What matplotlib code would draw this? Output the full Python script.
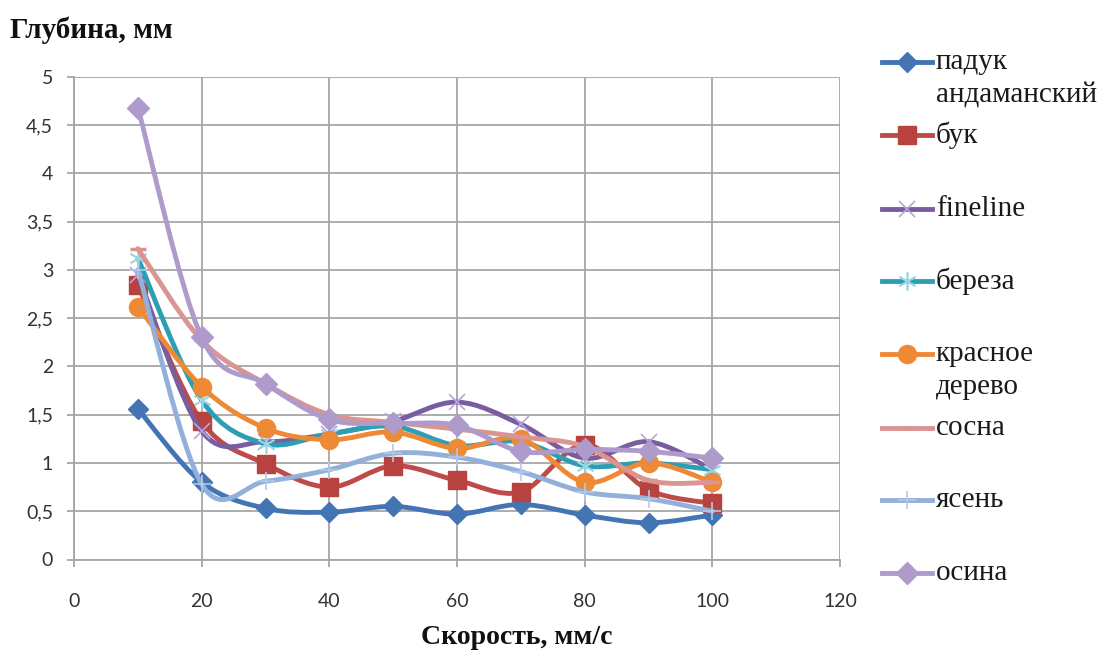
import numpy as np
import matplotlib
matplotlib.use("Agg")
import matplotlib.pyplot as plt
from matplotlib.path import Path
from matplotlib.patches import PathPatch
from matplotlib.lines import Line2D
from matplotlib.ticker import FuncFormatter

# ---------------- data ----------------
speed = [10, 20, 30, 40, 50, 60, 70, 80, 90, 100]

series_names = ["падук\nандаманский", "бук", "fineline", "береза",
                "красное\nдерево", "сосна", "ясень", "осина"]

paduk    = [1.56, 0.80, 0.53, 0.49, 0.55, 0.47, 0.57, 0.46, 0.38, 0.46]
buk      = [2.84, 1.43, 0.99, 0.75, 0.97, 0.82, 0.70, 1.19, 0.72, 0.58]
fineline = [2.95, 1.33, 1.22, 1.30, 1.43, 1.63, 1.40, 1.05, 1.22, 0.93]
bereza   = [3.12, 1.65, 1.20, 1.30, 1.38, 1.18, 1.22, 0.97, 1.00, 0.93]
krasnoe  = [2.62, 1.79, 1.36, 1.24, 1.32, 1.15, 1.25, 0.80, 1.00, 0.80]
sosna    = [3.22, 2.27, 1.82, 1.50, 1.42, 1.35, 1.27, 1.17, 0.82, 0.80]
yasen    = [3.00, 0.78, 0.81, 0.93, 1.10, 1.06, 0.91, 0.70, 0.63, 0.50]
osina    = [4.68, 2.30, 1.82, 1.45, 1.41, 1.39, 1.12, 1.14, 1.12, 1.05]

values = [paduk, buk, fineline, bereza, krasnoe, sosna, yasen, osina]

x_ticks = [0, 20, 40, 60, 80, 100, 120]
y_ticks = [0, 0.5, 1, 1.5, 2, 2.5, 3, 3.5, 4, 4.5, 5]

# ---------------- styles ----------------
line_colors = ["#4374B4", "#BE4B48", "#7A5CA0", "#2E9FB3",
               "#EE8A36", "#DA9491", "#92B0D9", "#AE9BCB"]
markers = ["D", "s", "x", (6, 2, 0), "o", "_", "+", "D"]
marker_colors = ["#4374B4", "#B8423F", "#B7A4DA", "#9AD6E4",
                 "#EE8A36", "#DA9491", "#B3C9E8", "#AE9BCB"]
marker_sizes = [10, 13, 12, 13, 13, 11, 13, 11]
marker_ew = [1, 1, 1.2, 1.2, 1, 2.5, 1.2, 1]

W, H = 1099, 655
fig = plt.figure(figsize=(W / 100, H / 100), dpi=100)
fig.patch.set_facecolor("white")

left_px, right_px, top_px, bottom_px = 74, 840, 76.7, 559.5
ax = fig.add_axes([left_px / W, 1 - bottom_px / H,
                   (right_px - left_px) / W, (bottom_px - top_px) / H])

ax.set_xlim(0, 120)
ax.set_ylim(0, 5)
ax.set_xticks(x_ticks)
ax.set_yticks(y_ticks)
ax.yaxis.set_major_formatter(FuncFormatter(
    lambda v, p: ("%g" % v).replace(".", ",")))

grid_c = "#A6A6A6"
ax.grid(True, color=grid_c, linewidth=1.3)
ax.set_axisbelow(True)
for s in ["top", "right"]:
    ax.spines[s].set_visible(False)
for s in ["left", "bottom"]:
    ax.spines[s].set_color(grid_c)
    ax.spines[s].set_linewidth(1.3)
ax.tick_params(axis="both", direction="out", length=5, width=1.3,
               color=grid_c, labelsize=14, labelcolor="#333333")
ax.tick_params(axis="x", pad=19)
ax.tick_params(axis="y", pad=10)
for lab in ax.get_xticklabels() + ax.get_yticklabels():
    lab.set_family("Lato")


def bezier_path(xs, ys):
    pts = np.column_stack([xs, ys]).astype(float)
    n = len(pts)
    verts = [pts[0]]
    codes = [Path.MOVETO]
    for i in range(n - 1):
        p0 = pts[i - 1] if i > 0 else pts[i]
        p1 = pts[i]
        p2 = pts[i + 1]
        p3 = pts[i + 2] if i + 2 < n else pts[i + 1]
        c1 = p1 + (p2 - p0) / 6.0
        c2 = p2 - (p3 - p1) / 6.0
        verts += [c1, c2, p2]
        codes += [Path.CURVE4] * 3
    return Path(verts, codes)


for i, ys in enumerate(values):
    patch = PathPatch(bezier_path(speed, ys), facecolor="none",
                      edgecolor=line_colors[i], linewidth=3.5,
                      capstyle="round", joinstyle="round", zorder=3 + i)
    ax.add_patch(patch)
    ax.plot(speed, ys, linestyle="none", marker=markers[i],
            markersize=marker_sizes[i], color=marker_colors[i],
            markeredgecolor=marker_colors[i], markeredgewidth=marker_ew[i],
            zorder=3.5 + i)

# axis titles
fig.text(10 / W, 1 - 30 / H, "Глубина, мм", fontsize=21, fontweight="bold",
         family="Liberation Serif", ha="left", va="center", color="#111111")
fig.text(517 / W, 1 - 638 / H, "Скорость, мм/с", fontsize=20,
         fontweight="bold", family="Liberation Serif", ha="center",
         va="center", color="#111111")

# legend (drawn manually, Excel style)
entry_y = [62, 135, 209, 281, 354, 428, 500, 573]
for i, name in enumerate(series_names):
    yc = 1 - entry_y[i] / H
    fig.add_artist(Line2D([882 / W, 932 / W], [yc, yc],
                          transform=fig.transFigure,
                          color=line_colors[i], linewidth=3.5))
    fig.add_artist(Line2D([907 / W], [yc], transform=fig.transFigure,
                          linestyle="none", marker=markers[i],
                          markersize=marker_sizes[i], color=marker_colors[i],
                          markeredgecolor=marker_colors[i],
                          markeredgewidth=marker_ew[i]))
    for k, part in enumerate(name.split("\n")):
        fig.text(936 / W, 1 - (entry_y[i] + 33 * k) / H, part, fontsize=21,
                 family="Liberation Serif", ha="left", va="center",
                 color="#1A1A1A")

fig.savefig("out.png", dpi=100, facecolor="white")
